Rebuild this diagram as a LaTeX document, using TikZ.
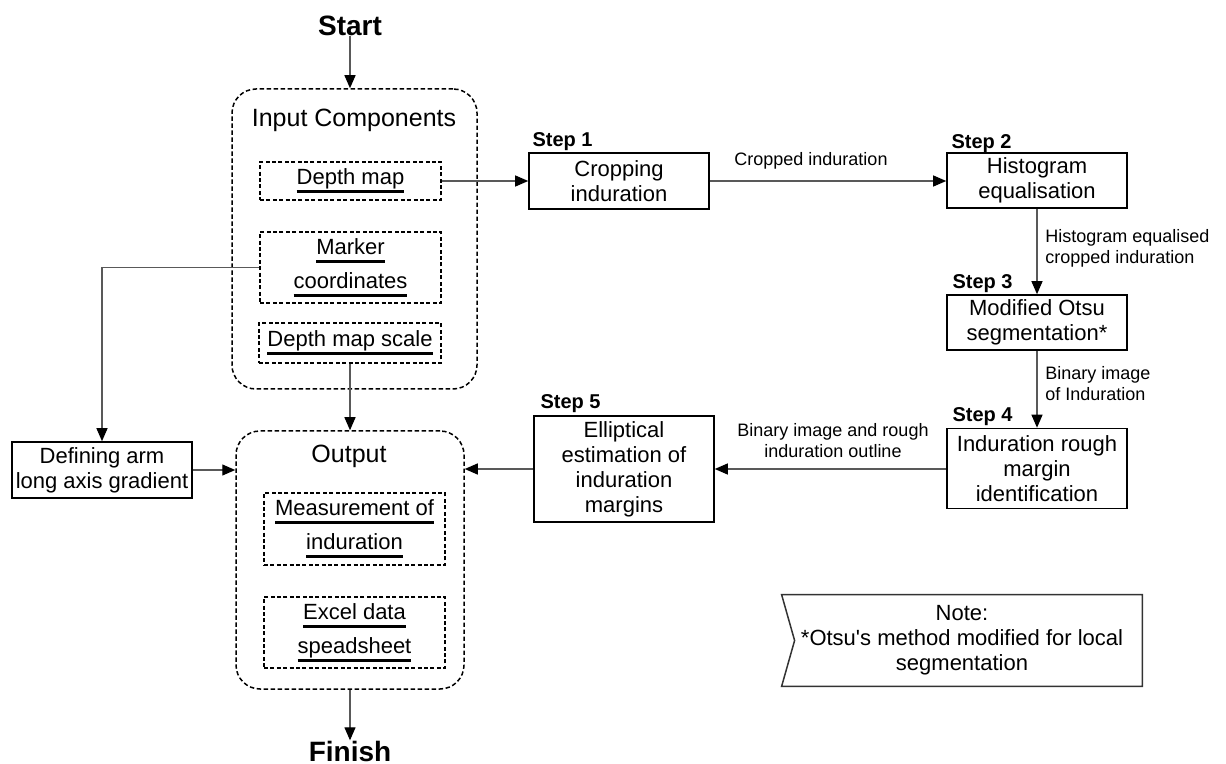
\documentclass[tikz,border=0pt]{standalone}
\usepackage{fontspec}
\setmainfont{Liberation Sans}
\usetikzlibrary{arrows.meta,calc}
% thick bar under a line of text
\newcommand\barline[1]{\setbox0\hbox{#1}\leavevmode\rlap{\rule[-4.3pt]{\wd0}{1.5pt}}\box0}
\begin{document}
\begin{tikzpicture}[x=0.5pt,y=-0.5pt,
  conn/.style={draw=black!65, line width=0.6pt,
    -{Triangle[length=6.5pt,width=5.5pt,color=black]}},
  stepbox/.style={draw, line width=0.8pt, align=center, inner sep=0pt,
    font=\fontsize{11}{12.5}\selectfont, minimum width=90pt},
  group/.style={draw, dash pattern=on 2.2pt off 1.3pt, line width=0.75pt,
    rounded corners=12pt, inner sep=0pt},
  item/.style={draw, dash pattern=on 2pt off 1.2pt, line width=0.7pt,
    align=center, inner sep=0pt, font=\fontsize{11}{17}\selectfont,
    minimum width=90.5pt},
  title/.style={font=\fontsize{12.5}{14}\selectfont, inner sep=0pt},
  steplabel/.style={font=\bfseries\fontsize{10}{12}\selectfont,
    anchor=base west, inner sep=0pt},
  flowlabel/.style={font=\fontsize{9}{10.5}\selectfont, inner sep=0pt},
  term/.style={font=\bfseries\fontsize{14}{16}\selectfont, inner sep=0pt}]

\useasboundingbox (0,0) rectangle (1226,764);

% start / finish
\node[term] (start) at (350,26) {Start};
\node[term] (finish) at (350,751) {Finish};

% input components group
\node[group, minimum width=122.5pt, minimum height=150pt] (inbox) at (354.5,239) {};
\node[title] (intitle) at (354,120) {Input Components};
\node[item, minimum height=19pt] (dmap) at (350.5,181) {\barline{Depth map}};
\node[item, minimum height=35.5pt] (marker) at (350.5,267.5)
  {\barline{Marker}\\\barline{coordinates}};
\node[item, minimum width=91pt, minimum height=20pt] (dscale) at (350,343)
  {\barline{Depth map scale}};

% output group
\node[group, minimum width=114pt, minimum height=129pt] (outbox) at (350,560) {};
\node[title] (outtitle) at (349,456) {Output};
\node[item, minimum height=36pt] (meas) at (354.5,529)
  {\barline{Measurement of}\\\barline{induration}};
\node[item, minimum height=35.5pt] (excel) at (354.5,632.5)
  {\barline{Excel data}\\\barline{speadsheet}};

% side process
\node[stepbox, minimum height=28pt] (defarm) at (102,470)
  {Defining arm\\long axis gradient};

% processing steps
\node[stepbox, minimum height=28pt] (s1) at (619,181) {Cropping\\induration};
\node[stepbox, minimum height=27.5pt] (s2) at (1037,180.5) {Histogram\\equalisation};
\node[stepbox, minimum height=27.5pt] (s3) at (1037,322.5) {Modified Otsu\\segmentation*};
\node[stepbox, minimum height=40pt] (s4) at (1037,468.5)
  {Induration rough\\margin\\identification};
\node[stepbox, minimum height=53pt] (s5) at (624,469)
  {Elliptical\\estimation of\\induration\\margins};

\node[steplabel] (l1) at ($(s1.north west)+(4,-6)$) {Step 1};
\node[steplabel] (l2) at ($(s2.north west)+(5,-4)$) {Step 2};
\node[steplabel] (l3) at ($(s3.north west)+(6,-6)$) {Step 3};
\node[steplabel] (l4) at ($(s4.north west)+(6,-6)$) {Step 4};
\node[steplabel] (l5) at ($(s5.north west)+(7,-7)$) {Step 5};

% flow labels
\node[flowlabel] (f1) at (811,161) {Cropped induration};
\node[flowlabel, anchor=west, align=left] (f2) at (1045,248)
  {Histogram equalised\\cropped induration};
\node[flowlabel, anchor=west, align=left] (f3) at (1045,384)
  {Binary image\\of Induration};
\node[flowlabel, align=center] (f4) at (833,441)
  {Binary image and rough\\induration outline};

% note
\node[font=\fontsize{11}{12.5}\selectfont, align=center, inner sep=0pt,
  minimum width=180pt, minimum height=45.5pt] (note) at (962,640.5)
  {Note:\\*Otsu\textquotesingle s method modified for local\\segmentation};
\draw[line width=0.75pt, black!80] (note.north west) -- (note.north east)
  -- (note.south east) -- (note.south west) -- ([xshift=6.5pt]note.west) -- cycle;

% connectors
\draw[conn] (start.south) -- (start.south |- inbox.north);
\draw[conn] (dmap.east) -- (dmap.east -| s1.west);
\draw[conn] (s1.east) -- (s1.east -| s2.west);
\draw[conn] (s2.south) -- (s3.north);
\draw[conn] (s3.south) -- (s4.north);
\draw[conn] (s4.west |- s5.east) -- (s5.east);
\draw[conn] (s5.west) -- (s5.west -| outbox.east);
\draw[conn] (marker.west) -| (defarm.north);
\draw[conn] (defarm.east) -- (defarm.east -| outbox.west);
\draw[conn] (dscale.south) -- (dscale.south |- outbox.north);
\draw[conn] (outbox.south) -- (finish.north);
\end{tikzpicture}
\end{document}
